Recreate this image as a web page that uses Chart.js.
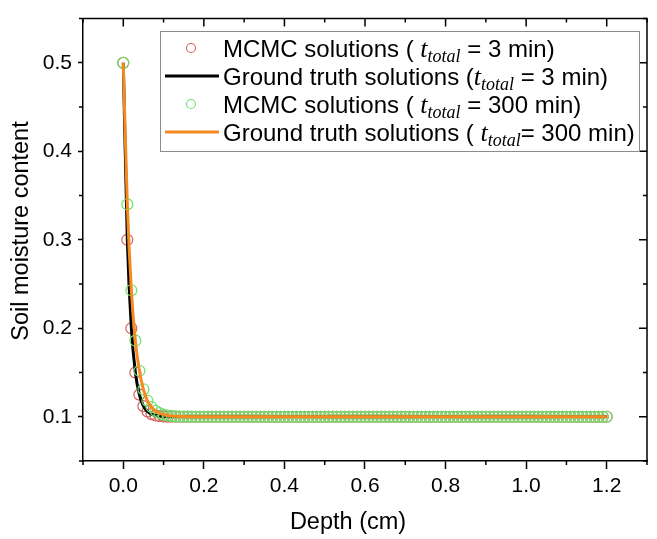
<!DOCTYPE html>
<html><head><meta charset="utf-8">
<script src="https://cdn.jsdelivr.net/npm/chart.js@4.4.1/dist/chart.umd.min.js"></script>
<style>html,body{margin:0;padding:0;background:#fff;}canvas{display:block;}</style>
</head><body>
<canvas id="c" width="657" height="539"></canvas>
<script>
const depth = [
0,0.01,0.02,0.03,0.04,0.05,0.06,0.07,0.08,0.09,
0.1,0.11,0.12,0.13,0.14,0.15,0.16,0.17,0.18,0.19,
0.2,0.21,0.22,0.23,0.24,0.25,0.26,0.27,0.28,0.29,
0.3,0.31,0.32,0.33,0.34,0.35,0.36,0.37,0.38,0.39,
0.4,0.41,0.42,0.43,0.44,0.45,0.46,0.47,0.48,0.49,
0.5,0.51,0.52,0.53,0.54,0.55,0.56,0.57,0.58,0.59,
0.6,0.61,0.62,0.63,0.64,0.65,0.66,0.67,0.68,0.69,
0.7,0.71,0.72,0.73,0.74,0.75,0.76,0.77,0.78,0.79,
0.8,0.81,0.82,0.83,0.84,0.85,0.86,0.87,0.88,0.89,
0.9,0.91,0.92,0.93,0.94,0.95,0.96,0.97,0.98,0.99,
1.0,1.01,1.02,1.03,1.04,1.05,1.06,1.07,1.08,1.09,
1.1,1.11,1.12,1.13,1.14,1.15,1.16,1.17,1.18,1.19,
1.2];
const mcmc3 = [
0.5,0.3,0.2,0.15,0.125,0.112,0.106,0.103,0.1015,0.1008,
0.1004,0.1002,0.1001,0.1,0.1,0.1,0.1,0.1,0.1,0.1,
0.1,0.1,0.1,0.1,0.1,0.1,0.1,0.1,0.1,0.1,
0.1,0.1,0.1,0.1,0.1,0.1,0.1,0.1,0.1,0.1,
0.1,0.1,0.1,0.1,0.1,0.1,0.1,0.1,0.1,0.1,
0.1,0.1,0.1,0.1,0.1,0.1,0.1,0.1,0.1,0.1,
0.1,0.1,0.1,0.1,0.1,0.1,0.1,0.1,0.1,0.1,
0.1,0.1,0.1,0.1,0.1,0.1,0.1,0.1,0.1,0.1,
0.1,0.1,0.1,0.1,0.1,0.1,0.1,0.1,0.1,0.1,
0.1,0.1,0.1,0.1,0.1,0.1,0.1,0.1,0.1,0.1,
0.1,0.1,0.1,0.1,0.1,0.1,0.1,0.1,0.1,0.1,
0.1,0.1,0.1,0.1,0.1,0.1,0.1,0.1,0.1,0.1,
0.1];
const truth3 = [
0.5,0.3,0.2,0.15,0.125,0.112,0.106,0.103,0.1015,0.1008,
0.1004,0.1002,0.1001,0.1,0.1,0.1,0.1,0.1,0.1,0.1,
0.1,0.1,0.1,0.1,0.1,0.1,0.1,0.1,0.1,0.1,
0.1,0.1,0.1,0.1,0.1,0.1,0.1,0.1,0.1,0.1,
0.1,0.1,0.1,0.1,0.1,0.1,0.1,0.1,0.1,0.1,
0.1,0.1,0.1,0.1,0.1,0.1,0.1,0.1,0.1,0.1,
0.1,0.1,0.1,0.1,0.1,0.1,0.1,0.1,0.1,0.1,
0.1,0.1,0.1,0.1,0.1,0.1,0.1,0.1,0.1,0.1,
0.1,0.1,0.1,0.1,0.1,0.1,0.1,0.1,0.1,0.1,
0.1,0.1,0.1,0.1,0.1,0.1,0.1,0.1,0.1,0.1,
0.1,0.1,0.1,0.1,0.1,0.1,0.1,0.1,0.1,0.1,
0.1,0.1,0.1,0.1,0.1,0.1,0.1,0.1,0.1,0.1,
0.1];
const mcmc300 = [
0.5,0.34,0.243,0.186,0.152,0.131,0.118,0.111,0.1067,0.104,
0.1024,0.1014,0.1009,0.1005,0.1003,0.1002,0.1001,0.1,0.1,0.1,
0.1,0.1,0.1,0.1,0.1,0.1,0.1,0.1,0.1,0.1,
0.1,0.1,0.1,0.1,0.1,0.1,0.1,0.1,0.1,0.1,
0.1,0.1,0.1,0.1,0.1,0.1,0.1,0.1,0.1,0.1,
0.1,0.1,0.1,0.1,0.1,0.1,0.1,0.1,0.1,0.1,
0.1,0.1,0.1,0.1,0.1,0.1,0.1,0.1,0.1,0.1,
0.1,0.1,0.1,0.1,0.1,0.1,0.1,0.1,0.1,0.1,
0.1,0.1,0.1,0.1,0.1,0.1,0.1,0.1,0.1,0.1,
0.1,0.1,0.1,0.1,0.1,0.1,0.1,0.1,0.1,0.1,
0.1,0.1,0.1,0.1,0.1,0.1,0.1,0.1,0.1,0.1,
0.1,0.1,0.1,0.1,0.1,0.1,0.1,0.1,0.1,0.1,
0.1];
const truth300 = [
0.5,0.34,0.243,0.186,0.152,0.131,0.118,0.111,0.1067,0.104,
0.1024,0.1014,0.1009,0.1005,0.1003,0.1002,0.1001,0.1,0.1,0.1,
0.1,0.1,0.1,0.1,0.1,0.1,0.1,0.1,0.1,0.1,
0.1,0.1,0.1,0.1,0.1,0.1,0.1,0.1,0.1,0.1,
0.1,0.1,0.1,0.1,0.1,0.1,0.1,0.1,0.1,0.1,
0.1,0.1,0.1,0.1,0.1,0.1,0.1,0.1,0.1,0.1,
0.1,0.1,0.1,0.1,0.1,0.1,0.1,0.1,0.1,0.1,
0.1,0.1,0.1,0.1,0.1,0.1,0.1,0.1,0.1,0.1,
0.1,0.1,0.1,0.1,0.1,0.1,0.1,0.1,0.1,0.1,
0.1,0.1,0.1,0.1,0.1,0.1,0.1,0.1,0.1,0.1,
0.1,0.1,0.1,0.1,0.1,0.1,0.1,0.1,0.1,0.1,
0.1,0.1,0.1,0.1,0.1,0.1,0.1,0.1,0.1,0.1,
0.1];
const xMajorTicks = [0, 0.2, 0.4, 0.6, 0.8, 1.0, 1.2];
const xMinorTicks = [-0.1, 0.1, 0.3, 0.5, 0.7, 0.9, 1.1, 1.3];
const yMajorTicks = [0.1, 0.2, 0.3, 0.4, 0.5];
const yMinorTicks = [0.05, 0.15, 0.25, 0.35, 0.45, 0.55];
const legendPre = ['MCMC solutions ( ', 'Ground truth solutions (', 'MCMC solutions ( ', 'Ground truth solutions ( '];
const legendMath = 't';
const legendSub = 'total';
const legendPost = [' = 3 min)', ' = 3 min)', ' = 300 min)', '= 300 min)'];
const xTitle = 'Depth (cm)';
const yTitle = 'Soil moisture content';

const SANS = "'Liberation Sans', Arial, sans-serif";
const SERIF = "'Liberation Serif', 'Times New Roman', serif";
const pts = arr => depth.map((x, i) => ({x: x, y: arr[i]}));

const frameLegend = {
  id: 'frameLegend',
  afterDraw(chart) {
    const {ctx, chartArea: a, scales: {x, y}} = chart;
    ctx.save();
    ctx.strokeStyle = '#000';
    ctx.lineWidth = 1.5;
    ctx.beginPath();
    ctx.moveTo(a.left, a.top); ctx.lineTo(a.right, a.top); ctx.lineTo(a.right, a.bottom);
    ctx.stroke();
    ctx.beginPath();
    xMajorTicks.forEach(v => { const p = x.getPixelForValue(v); ctx.moveTo(p, a.top); ctx.lineTo(p, a.top + 8); });
    xMinorTicks.forEach(v => { const p = x.getPixelForValue(v);
      ctx.moveTo(p, a.top); ctx.lineTo(p, a.top + 4);
      ctx.moveTo(p, a.bottom); ctx.lineTo(p, a.bottom + 4); });
    yMajorTicks.forEach(v => { const p = y.getPixelForValue(v); ctx.moveTo(a.right, p); ctx.lineTo(a.right - 8, p); });
    yMinorTicks.forEach(v => { const p = y.getPixelForValue(v);
      ctx.moveTo(a.right, p); ctx.lineTo(a.right - 4, p);
      ctx.moveTo(a.left, p); ctx.lineTo(a.left - 4, p); });
    ctx.stroke();

    // axis titles
    ctx.fillStyle = '#000';
    ctx.textAlign = 'center';
    ctx.textBaseline = 'middle';
    ctx.font = '23.5px ' + SANS;
    ctx.fillText(xTitle, 348, 523);
    ctx.save();
    ctx.translate(22, 231);
    ctx.rotate(-Math.PI / 2);
    ctx.fillText(yTitle, 0, 0);
    ctx.restore();

    // legend
    const bx = 160.5, by = 31.5, bw = 479, bh = 120;
    ctx.fillStyle = '#fff';
    ctx.fillRect(bx, by, bw, bh);
    ctx.strokeStyle = '#8c8c8c';
    ctx.lineWidth = 1;
    ctx.strokeRect(bx, by, bw, bh);
    chart.data.datasets.forEach((ds, i) => {
      const cy = 48 + i * 28;
      if (ds.showLine) {
        ctx.strokeStyle = ds.borderColor; ctx.lineWidth = 3;
        ctx.beginPath(); ctx.moveTo(165, cy); ctx.lineTo(219, cy); ctx.stroke();
      } else {
        ctx.strokeStyle = ds.borderColor; ctx.lineWidth = 1.1;
        ctx.beginPath(); ctx.arc(191, cy, 4.5, 0, Math.PI * 2); ctx.stroke();
      }
      ctx.fillStyle = '#000';
      ctx.textBaseline = 'alphabetic';
      ctx.textAlign = 'left';
      let tx = 223;
      const base = cy + 8.5;
      ctx.font = '24px ' + SANS;
      ctx.fillText(legendPre[i], tx, base); tx += ctx.measureText(legendPre[i]).width;
      ctx.font = 'italic 26px ' + SERIF;
      ctx.fillText(legendMath, tx, base); tx += ctx.measureText(legendMath).width;
      ctx.font = 'italic 18px ' + SERIF;
      ctx.fillText(legendSub, tx, base + 5); tx += ctx.measureText(legendSub).width;
      ctx.font = '24px ' + SANS;
      ctx.fillText(legendPost[i], tx, base);
    });
    ctx.restore();
  }
};

new Chart(document.getElementById('c'), {
  type: 'scatter',
  data: {
    datasets: [
      {label: 'MCMC solutions (t_total = 3 min)', data: pts(mcmc3), showLine: false,
       pointStyle: 'circle', pointRadius: 5.5, pointBorderWidth: 1.2,
       borderColor: '#d65f5c', backgroundColor: 'rgba(0,0,0,0)', order: 4},
      {label: 'Ground truth solutions (t_total = 3 min)', data: pts(truth3), showLine: true,
       pointRadius: 0, borderColor: '#000000', borderWidth: 3,
       cubicInterpolationMode: 'monotone', order: 3},
      {label: 'MCMC solutions (t_total = 300 min)', data: pts(mcmc300), showLine: false,
       pointStyle: 'circle', pointRadius: 5.5, pointBorderWidth: 1.2,
       borderColor: '#6fe06f', backgroundColor: 'rgba(0,0,0,0)', order: 2},
      {label: 'Ground truth solutions (t_total = 300 min)', data: pts(truth300), showLine: true,
       pointRadius: 0, borderColor: '#f58a1f', borderWidth: 3,
       cubicInterpolationMode: 'monotone', order: 1}
    ]
  },
  options: {
    responsive: false,
    animation: false,
    devicePixelRatio: 1,
    layout: {padding: {top: 6, right: 10, left: 0, bottom: 0}},
    plugins: {legend: {display: false}, tooltip: {enabled: false}},
    scales: {
      x: {
        type: 'linear', min: -0.1, max: 1.3,
        afterBuildTicks: s => { s.ticks = xMajorTicks.map(v => ({value: v})); },
        afterFit: s => { s.height = 78; },
        ticks: {color: '#000', font: {family: SANS, size: 21}, padding: 5,
                autoSkip: false, maxRotation: 0, callback: v => Number(v).toFixed(1)},
        grid: {display: true, drawOnChartArea: false, drawTicks: true, tickLength: 8,
               tickColor: '#000', tickWidth: 1.5},
        border: {display: true, color: '#000', width: 1.5},
        title: {display: false}
      },
      y: {
        type: 'linear', min: 0.05, max: 0.55,
        afterBuildTicks: s => { s.ticks = yMajorTicks.map(v => ({value: v})); },
        afterFit: s => { s.width = 83; },
        ticks: {color: '#000', font: {family: SANS, size: 21}, padding: 6,
                autoSkip: false, callback: v => Number(v).toFixed(1)},
        grid: {display: true, drawOnChartArea: false, drawTicks: true, tickLength: 5,
               tickColor: '#000', tickWidth: 1.5},
        border: {display: true, color: '#000', width: 1.5},
        title: {display: false}
      }
    }
  },
  plugins: [frameLegend]
});
</script>
</body></html>
